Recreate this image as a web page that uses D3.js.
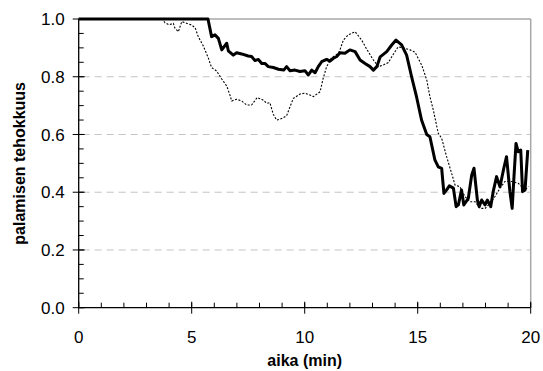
<!DOCTYPE html>
<html><head><meta charset="utf-8">
<script src="https://cdn.jsdelivr.net/npm/d3@7"></script>
<style>body{margin:0;background:#fff}svg{display:block}</style>
</head><body>
<script>
// Data
const xTicks = [0, 5, 10, 15, 20];
const yTicks = [0.0, 0.2, 0.4, 0.6, 0.8, 1.0];
const gridValues = [0.2, 0.4, 0.6, 0.8];
const xLabel = "aika (min)";
const yLabel = "palamisen tehokkuus";

const solidTime = [0,5.72,5.88,6.03,6.18,6.33,6.55,6.62,6.84,6.99,7.21,7.5,7.65,7.8,7.95,8.1,8.24,8.39,8.61,8.84,9.07,9.2,9.35,9.57,9.79,10.01,10.16,10.31,10.46,10.6,10.75,10.97,11.12,11.27,11.42,11.56,11.78,12.0,12.23,12.45,12.67,12.89,13.04,13.19,13.34,13.63,13.85,14.04,14.29,14.51,14.73,14.95,15.17,15.4,15.54,15.76,15.91,16.06,16.16,16.28,16.4,16.58,16.7,16.8,16.94,17.04,17.24,17.39,17.49,17.64,17.72,17.83,17.98,18.08,18.23,18.34,18.49,18.64,18.81,18.93,19.08,19.18,19.26,19.35,19.45,19.56,19.64,19.75,19.87];
const solidValue = [1,1,0.939,0.945,0.933,0.893,0.916,0.89,0.875,0.883,0.879,0.872,0.87,0.856,0.86,0.846,0.846,0.835,0.832,0.826,0.823,0.835,0.821,0.823,0.818,0.821,0.806,0.823,0.814,0.835,0.852,0.86,0.854,0.864,0.87,0.883,0.881,0.893,0.887,0.858,0.846,0.835,0.823,0.835,0.869,0.887,0.91,0.927,0.91,0.875,0.8,0.73,0.65,0.6,0.592,0.512,0.488,0.483,0.396,0.408,0.422,0.414,0.35,0.356,0.408,0.356,0.379,0.46,0.483,0.373,0.35,0.373,0.356,0.373,0.35,0.402,0.454,0.419,0.483,0.523,0.402,0.344,0.454,0.569,0.54,0.546,0.402,0.408,0.546];

const dotTime = [0,3.7,3.82,4.0,4.19,4.26,4.41,4.56,5.0,5.15,5.29,5.51,5.73,5.88,6.1,6.33,6.55,6.69,6.77,6.99,7.21,7.43,7.65,7.9,8.17,8.32,8.46,8.61,8.76,8.98,9.2,9.35,9.5,9.79,10.01,10.23,10.38,10.68,10.82,10.97,11.19,11.49,11.56,11.71,11.93,12.23,12.52,12.74,13.04,13.26,13.48,13.7,13.92,14.14,14.44,14.66,14.88,15.18,15.4,15.54,15.69,15.91,16.06,16.28,16.5,16.65,16.87,17.09,17.31,17.54,17.76,17.98,18.2,18.42,18.64,18.86,19.16,19.45,19.75,19.9];
const dotValue = [1,1,0.987,0.98,0.985,0.968,0.956,0.991,0.979,0.97,0.939,0.907,0.866,0.832,0.82,0.792,0.768,0.737,0.716,0.722,0.716,0.702,0.702,0.728,0.719,0.708,0.71,0.67,0.65,0.655,0.665,0.696,0.725,0.74,0.743,0.737,0.731,0.748,0.795,0.835,0.866,0.881,0.893,0.927,0.945,0.956,0.927,0.896,0.858,0.835,0.841,0.849,0.878,0.904,0.898,0.893,0.885,0.84,0.789,0.731,0.685,0.604,0.587,0.523,0.466,0.425,0.419,0.385,0.367,0.367,0.344,0.344,0.362,0.385,0.414,0.437,0.437,0.431,0.408,0.42];

const W = 543, H = 371;
const svg = d3.select("body").append("svg").attr("width", W).attr("height", H);
const x = d3.scaleLinear().domain([0, 20]).range([78.7, 530.7]);
const y = d3.scaleLinear().domain([0, 1]).range([307.7, 19]);
const font = "Liberation Sans, Arial, sans-serif";

// gridlines
svg.append("g").selectAll("line").data(gridValues).join("line")
  .attr("x1", x(0)).attr("x2", x(20))
  .attr("y1", d => y(d)).attr("y2", d => y(d))
  .attr("stroke", "#c4c4c4").attr("stroke-width", 1)
  .attr("stroke-dasharray", "7,5").attr("stroke-dashoffset", -4);

// top and right border
svg.append("line").attr("x1", x(0)).attr("x2", x(20)).attr("y1", y(1)).attr("y2", y(1))
  .attr("stroke", "#a8a8a8").attr("stroke-width", 1.5);
svg.append("line").attr("x1", x(20)).attr("x2", x(20)).attr("y1", y(1)).attr("y2", y(0))
  .attr("stroke", "#a8a8a8").attr("stroke-width", 1.5);

// lines
const lineGen = d3.line().x(d => x(d[0])).y(d => y(d[1]));
const dotData = dotTime.map((t, i) => [t, dotValue[i]]);
const solidData = solidTime.map((t, i) => [t, solidValue[i]]);
svg.append("path").datum(dotData).attr("d", lineGen)
  .attr("fill", "none").attr("stroke", "#000").attr("stroke-width", 1.1)
  .attr("stroke-dasharray", "2,1.6");
svg.append("path").datum(solidData).attr("d", lineGen)
  .attr("fill", "none").attr("stroke", "#000").attr("stroke-width", 3)
  .attr("stroke-linejoin", "round");

// y axis
const yAxisG = svg.append("g").attr("transform", `translate(${x(0)},0)`);
yAxisG.append("line").attr("x1", 0).attr("x2", 0).attr("y1", y(1)).attr("y2", y(0)).attr("stroke", "#000").attr("stroke-width", 1.3);
const yMinor = d3.range(0, 21).map(i => i * 0.05);
yAxisG.selectAll(".ymin").data(yMinor).join("line")
  .attr("x1", 0).attr("x2", 5).attr("y1", d => y(d)).attr("y2", d => y(d))
  .attr("stroke", "#000").attr("stroke-width", 1);
yAxisG.selectAll(".ymaj").data(yTicks).join("line")
  .attr("x1", -6).attr("x2", 6).attr("y1", d => y(d)).attr("y2", d => y(d))
  .attr("stroke", "#000").attr("stroke-width", 1);
yAxisG.selectAll("text").data(yTicks).join("text")
  .attr("x", -14).attr("y", d => y(d)).attr("dy", "0.36em")
  .attr("text-anchor", "end").attr("font-family", font).attr("font-size", 17)
  .text(d => d3.format(".1f")(d));

// x axis
const xAxisG = svg.append("g").attr("transform", `translate(0,${y(0)})`);
xAxisG.append("line").attr("x1", x(0)).attr("x2", x(20)).attr("y1", 0).attr("y2", 0).attr("stroke", "#000").attr("stroke-width", 1.3);
const xMinor = d3.range(0, 21);
xAxisG.selectAll(".xmin").data(xMinor).join("line")
  .attr("x1", d => x(d)).attr("x2", d => x(d)).attr("y1", 0).attr("y2", -5)
  .attr("stroke", "#000").attr("stroke-width", 1);
xAxisG.selectAll(".xmaj").data(xTicks).join("line")
  .attr("x1", d => x(d)).attr("x2", d => x(d)).attr("y1", -6).attr("y2", 6)
  .attr("stroke", "#000").attr("stroke-width", 1);
xAxisG.selectAll("text").data(xTicks).join("text")
  .attr("x", d => x(d)).attr("y", 35)
  .attr("text-anchor", "middle").attr("font-family", font).attr("font-size", 17)
  .text(d => d);

// axis titles
svg.append("text").attr("x", (x(0) + x(20)) / 2).attr("y", 366)
  .attr("text-anchor", "middle").attr("font-family", font).attr("font-size", 16)
  .attr("font-weight", "bold").text(xLabel);
svg.append("text").attr("transform", `translate(25,${(y(0) + y(1)) / 2}) rotate(-90)`)
  .attr("text-anchor", "middle").attr("font-family", font).attr("font-size", 16)
  .attr("font-weight", "bold").text(yLabel);
</script>
</body></html>
